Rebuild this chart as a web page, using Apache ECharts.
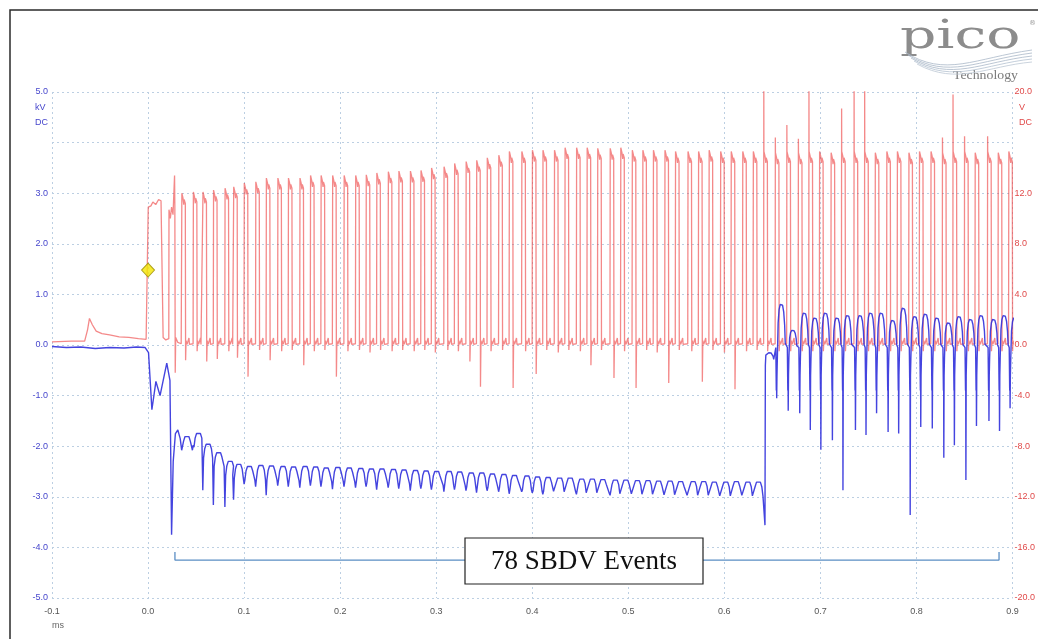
<!DOCTYPE html>
<html><head><meta charset="utf-8">
<script src="https://cdn.jsdelivr.net/npm/echarts@6/dist/echarts.min.js"></script>
<style>html,body{margin:0;padding:0;background:#fff}#c{width:1038px;height:639px}</style>
</head><body><div id="c"></div>
<script>
// ---- tick labels ----
const timeLabels = ['-0.1','0.0','0.1','0.2','0.3','0.4','0.5','0.6','0.7','0.8','0.9'];
const kvLabels = ['-5.0','-4.0','-3.0','-2.0','-1.0','0.0','1.0','2.0','3.0','','5.0'];
const vLabels = ['-20.0','-16.0','-12.0','-8.0','-4.0','0.0','4.0','8.0','12.0','','20.0'];

// ---- red channel (V) before the regular pulse train ----
const redPreT = [-0.1,-0.08,-0.066,-0.063,-0.061,-0.058,-0.054,-0.048,-0.04,-0.03,-0.02,-0.01,-0.002,0.0,0.0002,0.003,0.005,0.008,0.011,0.0135,0.0155,0.0157,0.0185,0.0216,0.0218,0.0232,0.0245,0.026,0.0276,0.0279,0.0283,0.0288,0.031,0.0345];
const redPreV = [0.25,0.3,0.3,1.2,2.1,1.6,1.1,0.9,0.8,0.65,0.6,0.5,0.45,0.5,10.9,11.0,11.3,11.1,11.5,11.4,11.3,0.6,0.4,0.5,10.7,10.0,10.9,10.3,13.4,11.0,-2.2,0.6,0.2,0.1];

// ---- blue channel (kV) before the regular pulse train ----
const bluePreT = [-0.1,-0.085,-0.07,-0.055,-0.04,-0.025,-0.012,-0.003,0.0005,0.004,0.0082,0.0125,0.0195,0.0228,0.0245,0.0262,0.0285,0.031,0.0335];
const bluePreV = [-0.03,-0.05,-0.04,-0.07,-0.05,-0.06,-0.04,-0.05,-0.15,-1.28,-0.72,-1.0,-0.36,-0.7,-3.75,-2.3,-1.75,-1.68,-1.85];

// ---- pulse train: rising-edge times (ms) ----
const pulseT = [0.035,0.047,0.057,0.068,0.080,0.089,0.100,0.112,0.123,0.135,
0.146,0.158,0.169,0.180,0.192,0.204,0.216,0.227,0.238,0.250,
0.261,0.273,0.284,0.295,0.308,0.319,0.331,0.342,0.353,0.365,
0.376,0.389,0.400,0.411,0.423,0.434,0.446,0.457,0.468,0.481,
0.492,0.504,0.515,0.526,0.538,0.549,0.562,0.573,0.584,0.596,
0.607,0.619,0.630,0.641,0.653,0.665,0.677,0.688,0.699,0.711,
0.722,0.735,0.746,0.757,0.769,0.780,0.792,0.803,0.815,0.827,
0.838,0.850,0.861,0.874,0.885,0.896];

// red pulse top level (V)
const redTop = [12.0,12.1,12.1,12.25,12.4,12.5,
12.8,12.9,13.2,13.2,13.2,13.2,13.4,13.4,13.4,13.4,
13.4,13.45,13.6,13.7,13.75,13.75,13.8,14.0,14.1,14.35,
14.5,14.6,14.8,15.0,15.3,15.3,15.4,15.4,15.4,15.6,
15.6,15.6,15.55,15.55,15.6,15.4,15.4,15.4,15.4,15.3,
15.3,15.3,15.4,15.3,15.3,15.3,15.3,
15.3,15.2,15.3,15.2,15.3,15.3,15.2,15.3,15.3,15.3,
15.2,15.3,15.3,15.2,15.3,15.3,15.2,15.3,15.3,15.2,15.3,15.2,15.3];
// red undershoot after each falling edge (V)
const redDip = [-1.2,-0.5,-1.3,-1.1,-0.5,-1.0,-2.5,-0.4,-1.2,-0.5,
-0.4,-1.6,-0.5,-0.4,-2.5,-0.5,-0.4,-0.6,-0.4,-0.5,
-0.4,-0.5,-0.4,-0.6,-0.4,-0.5,-1.3,-3.3,-0.5,-0.4,
-3.4,-0.5,-2.3,-0.4,-0.6,-0.4,-0.5,-1.6,-0.4,-2.6,
-0.5,-3.4,-0.4,-0.6,-3.0,-0.4,-0.5,-2.9,-0.4,-0.6,
-3.5,-0.5,-0.4,-0.5,-0.5,-0.5,-0.5,-0.5,-0.5,-0.5,
-0.5,-0.5,-0.5,-0.5,-0.5,-0.5,-0.5,-0.5,-0.5,-0.5,
-0.5,-0.5,-0.5,-0.5,-0.5,-0.5];
// tall red overshoots at some rising edges
const redSpikeT = [0.641,0.653,0.665,0.677,0.688,0.722,0.735,0.746,0.827,0.838,0.850,0.874];
const redSpikeV = [20.5,16.4,17.4,16.3,20.5,18.7,20.5,20.5,16.4,19.8,16.5,16.5];

// blue per pulse: lowest value (cusp / spike) and hump top (kV)
const blueLow = [-2.08,-1.98,-2.87,-3.16,-3.2,-3.06,-2.75,-2.8,-2.97,-2.78,
-2.8,-2.82,-2.78,-2.8,-2.85,-2.8,-2.82,-2.8,-2.86,-2.82,
-2.84,-2.88,-2.84,-2.86,-2.9,-2.86,-2.88,-2.92,-2.88,-2.9,
-2.94,-2.9,-2.92,-2.95,-2.9,-2.93,-2.95,-2.92,-2.94,-2.97,
-2.93,-2.96,-2.94,-2.97,-2.95,-2.96,-2.98,-2.95,-2.97,-2.98,
-3.0,-2.96,-2.98,
-3.56,-1.05,-1.3,-1.35,-1.68,-2.07,-1.88,-2.87,-1.68,-1.78,
-1.35,-1.72,-1.75,-3.36,-1.62,-1.65,-2.23,-1.98,-2.67,-1.6,-1.5,-1.7,-1.25];
const blueHigh = [-1.78,-1.72,-1.93,-2.10,-2.27,-2.33,-2.37,-2.35,-2.36,-2.37,
-2.38,-2.37,-2.38,-2.40,-2.39,-2.40,-2.41,-2.42,-2.42,-2.43,
-2.44,-2.45,-2.46,-2.47,-2.47,-2.48,-2.50,-2.50,-2.52,-2.53,
-2.55,-2.56,-2.58,-2.59,-2.60,-2.60,-2.62,-2.62,-2.63,-2.64,
-2.64,-2.65,-2.65,-2.66,-2.66,-2.67,-2.67,-2.67,-2.68,-2.68,
-2.67,-2.68,-2.68,
-0.15,0.83,0.3,0.65,0.55,0.65,0.55,0.6,0.6,0.65,
0.65,0.5,0.75,0.58,0.63,0.55,0.45,0.58,0.52,0.6,0.52,0.6,0.55];
const phase2T = 0.64; // blue channel changes regime here

// annotation bracket (ms, kV)
const bracketT = [0.028,0.028,0.886,0.886];
const bracketV = [-4.09,-4.25,-4.25,-4.09];
const triggerPoint = [0.0, 1.48];

// ---- build traces ----
const red = [];
redPreT.forEach((t,i)=>red.push([t, redPreV[i]]));
for (let i=0;i<pulseT.length;i++){
  const t0=pulseT[i], top=redTop[i];
  const next = i+1<pulseT.length ? pulseT[i+1] : 0.91;
  red.push([t0, 0.1]);
  const si = redSpikeT.indexOf(t0);
  if (si>=0) red.push([t0+0.0001, redSpikeV[si]]);
  red.push([t0+0.0002, top]);
  red.push([t0+0.0014, top-0.4]);
  red.push([t0+0.0022, top-0.9]);
  red.push([t0+0.0026, top-0.5]);
  red.push([t0+0.0038, top-0.8]);
  red.push([t0+0.0041, redDip[i]]);
  red.push([t0+0.0046, 0.35]);
  red.push([t0+0.0056, 0.05]);
  red.push([t0+0.0072, 0.05]);
  red.push([t0+0.0076, 0.55]);
  red.push([t0+0.0081, 0.05]);
  red.push([next-0.0001, 0.1]);
}

const blue = [];
bluePreT.forEach((t,i)=>blue.push([t, bluePreV[i]]));
const humpT = [0.0030,0.0040,0.0052,0.0064,0.0076,0.0088,0.0098,0.0104];
const humpS = [0.55,0.85,0.97,1.0,0.95,0.8,0.5,0.1];
for (let i=0;i<pulseT.length;i++){
  const t0=pulseT[i], lo=blueLow[i], hi=blueHigh[i];
  const next = i+1<pulseT.length ? pulseT[i+1] : 0.91;
  if (t0 < phase2T){
    blue.push([t0, lo]);
    blue.push([t0+0.0008, hi-0.3]);
    blue.push([t0+0.002, hi-0.12]);
    blue.push([t0+0.0035, hi-0.03]);
    blue.push([t0+0.0055, hi]);
    blue.push([t0+0.0075, hi-0.03]);
    blue.push([t0+0.009, hi-0.12]);
    blue.push([next-0.0008, hi-0.3]);
  } else {
    const first = pulseT[i-1] < phase2T;
    let base = -0.05;
    if (first){
      blue.push([t0+0.0013, lo]);
      blue.push([t0+0.0017, -0.4]);
      blue.push([t0+0.0022, -0.2]);
      base = -0.3;
    } else {
      blue.push([t0+0.0008, -0.05]);
      blue.push([t0+0.0011, -0.9]);
      blue.push([t0+0.0013, -0.45]);
      blue.push([t0+0.0015, lo]);
      blue.push([t0+0.0018, -0.6]);
      blue.push([t0+0.0022, -0.25]);
    }
    humpT.forEach((d,k)=>blue.push([t0+d, base+(hi-base)*humpS[k]]));
    blue.push([next+0.0006, -0.05]);
  }
}

const chart = echarts.init(document.getElementById('c'));
const grid = {left:52, right:22, top:92, bottom:41};
const dotted = {color:'#bccfe2', type:[2,3], width:1};
chart.setOption({
  animation:false,
  backgroundColor:'#ffffff',
  grid: grid,
  xAxis: {type:'value', min:-0.1, max:0.9, interval:0.1,
    axisLine:{show:false}, axisTick:{show:false},
    splitLine:{show:true, lineStyle:dotted},
    axisLabel:{margin:9, fontSize:9, fontFamily:'Liberation Sans', color:'#555',
      formatter:(v)=>timeLabels[Math.round((v+0.1)*10)]}},
  yAxis: [
    {type:'value', min:-5, max:5, interval:1, position:'left',
      axisLine:{show:false}, axisTick:{show:false},
      splitLine:{show:true, lineStyle:dotted},
      axisLabel:{margin:4, fontSize:9, fontFamily:'Liberation Sans', color:'#4646cc',
        formatter:(v)=>kvLabels[Math.round(v+5)]}},
    {type:'value', min:-20, max:20, interval:4, position:'right',
      axisLine:{show:false}, axisTick:{show:false}, splitLine:{show:false},
      axisLabel:{margin:2, fontSize:9, fontFamily:'Liberation Sans', color:'#e04a4a',
        formatter:(v)=>vLabels[Math.round((v+20)/4)]}}
  ],
  series: [
    {type:'line', yAxisIndex:1, data:red, showSymbol:false, sampling:null,
      lineStyle:{color:'#ec3a3a', width:1.3, opacity:0.6}, z:2},
    {type:'line', yAxisIndex:0, data:blue, showSymbol:false,
      lineStyle:{color:'#3030dc', width:1.4, opacity:0.9}, z:3},
    {type:'line', yAxisIndex:0, data:bracketT.map((t,i)=>[t,bracketV[i]]), showSymbol:false,
      lineStyle:{color:'#5b8ec4', width:1.3}, z:4},
    {type:'scatter', yAxisIndex:0, data:[triggerPoint], symbol:'diamond', symbolSize:[13,14],
      itemStyle:{color:'#f4e600', borderColor:'#9c8c00', borderWidth:1}, z:6}
  ],
  graphic: [
    {type:'rect', shape:{x:10,y:10,width:1040,height:640}, style:{fill:'none', stroke:'#2a2a2a', lineWidth:1.5}, z:50, silent:true},
    {type:'text', x:35, y:103, style:{text:'kV', fontSize:9, fontFamily:'Liberation Sans', fill:'#4646cc'}},
    {type:'text', x:35, y:118, style:{text:'DC', fontSize:9, fontFamily:'Liberation Sans', fill:'#4646cc'}},
    {type:'text', x:1019, y:103, style:{text:'V', fontSize:9, fontFamily:'Liberation Sans', fill:'#e04a4a'}},
    {type:'text', x:1019, y:118, style:{text:'DC', fontSize:9, fontFamily:'Liberation Sans', fill:'#e04a4a'}},
    {type:'text', x:52, y:621, style:{text:'ms', fontSize:9, fontFamily:'Liberation Sans', fill:'#666'}},
    // pico logo
    {type:'text', x:900, y:18, scaleX:1.42, style:{text:'pico', fontSize:40, fontFamily:'DejaVu Serif', fill:'#8c8c8c'}},
    {type:'text', x:1029, y:20, style:{text:'®', fontSize:7, fontFamily:'DejaVu Sans', fill:'#999'}},
    {type:'text', x:953, y:70, scaleX:1.2, style:{text:'Technology', fontSize:11.5, fontFamily:'Liberation Serif', fill:'#7a7a7a'}},
    {type:'bezierCurve', shape:{x1:905,y1:52,x2:1032,y2:50,cpx1:945,cpy1:78,cpx2:975,cpy2:58}, style:{stroke:'#aab8c8', lineWidth:0.8, fill:'none'}},
    {type:'bezierCurve', shape:{x1:908,y1:55,x2:1032,y2:53,cpx1:948,cpy1:80,cpx2:978,cpy2:60}, style:{stroke:'#aab8c8', lineWidth:0.8, fill:'none'}},
    {type:'bezierCurve', shape:{x1:911,y1:58,x2:1032,y2:56,cpx1:951,cpy1:82,cpx2:981,cpy2:62}, style:{stroke:'#aab8c8', lineWidth:0.8, fill:'none'}},
    {type:'bezierCurve', shape:{x1:914,y1:61,x2:1032,y2:59,cpx1:954,cpy1:84,cpx2:984,cpy2:64}, style:{stroke:'#b4c2d0', lineWidth:0.8, fill:'none'}},
    {type:'bezierCurve', shape:{x1:917,y1:64,x2:1032,y2:62,cpx1:957,cpy1:86,cpx2:987,cpy2:66}, style:{stroke:'#bcc8d4', lineWidth:0.8, fill:'none'}},
    // annotation box
    {type:'rect', shape:{x:465,y:538,width:238,height:46}, style:{fill:'#ffffff', stroke:'#222', lineWidth:1.2}, z:40},
    {type:'text', x:584, y:562, style:{text:'78 SBDV Events', fontSize:27, fontFamily:'Liberation Serif', fill:'#111', align:'center', verticalAlign:'middle'}, z:41}
  ]
});
</script></body></html>
